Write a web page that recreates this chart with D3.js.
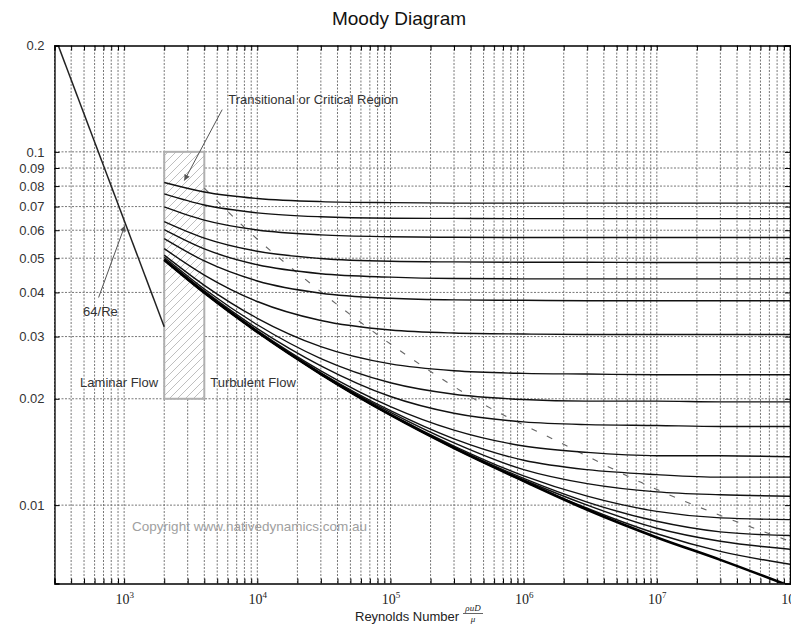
<!DOCTYPE html>
<html><head><meta charset="utf-8">
<script src="https://cdn.jsdelivr.net/npm/d3@7/dist/d3.min.js"></script>
<style>body{margin:0;background:#fff}svg{display:block}</style>
</head><body>
<svg id="chart" width="791" height="632"></svg>
<script>
// ---------- data ----------
const reynoldsNumbers = [2000, 4000, 1e4, 3e4, 1e5, 3e5, 1e6, 3e6, 1e7, 3e7, 1e8];
const roughnessLabels = ["0.05","0.04","0.03","0.02","0.015","0.01","0.005","0.002","0.001","0.0005","0.0002","0.0001","0.00005","0.00002","0.00001","0.000005","0.000002"];
const fRough050    = [0.0819, 0.0770, 0.0738, 0.0723, 0.0718, 0.0716, 0.0716, 0.0716, 0.0716, 0.0716, 0.0716];
const fRough040    = [0.0760, 0.0707, 0.0672, 0.0655, 0.0649, 0.0648, 0.0647, 0.0647, 0.0647, 0.0647, 0.0647];
const fRough030    = [0.0699, 0.0641, 0.0601, 0.0582, 0.0575, 0.0573, 0.0572, 0.0572, 0.0572, 0.0572, 0.0572];
const fRough020    = [0.0635, 0.0570, 0.0523, 0.0499, 0.0490, 0.0488, 0.0487, 0.0487, 0.0486, 0.0486, 0.0486];
const fRough015    = [0.0602, 0.0531, 0.0479, 0.0452, 0.0442, 0.0438, 0.0437, 0.0437, 0.0437, 0.0437, 0.0437];
const fRough010    = [0.0568, 0.0491, 0.0431, 0.0398, 0.0385, 0.0381, 0.0380, 0.0379, 0.0379, 0.0379, 0.0379];
const fRough005    = [0.0532, 0.0448, 0.0377, 0.0333, 0.0313, 0.0307, 0.0305, 0.0304, 0.0304, 0.0304, 0.0304];
const fRough002    = [0.0510, 0.0419, 0.0338, 0.0281, 0.0251, 0.0240, 0.0236, 0.0235, 0.0234, 0.0234, 0.0234];
const fRough001    = [0.0503, 0.0409, 0.0324, 0.0260, 0.0222, 0.0206, 0.0199, 0.0197, 0.0197, 0.0196, 0.0196];
const fRough0005   = [0.0498, 0.0404, 0.0316, 0.0248, 0.0203, 0.0182, 0.0172, 0.0169, 0.0168, 0.0167, 0.0167];
const fRough0002   = [0.0496, 0.0401, 0.0312, 0.0240, 0.0190, 0.0163, 0.0147, 0.0141, 0.0138, 0.0138, 0.0137];
const fRough0001   = [0.0495, 0.0400, 0.0310, 0.0237, 0.0185, 0.0154, 0.0134, 0.0126, 0.0122, 0.0120, 0.0120];
const fRough00005  = [0.0494, 0.0400, 0.0310, 0.0236, 0.0183, 0.0150, 0.0126, 0.0115, 0.0109, 0.0107, 0.0106];
const fRough00002  = [0.0494, 0.0399, 0.0309, 0.0235, 0.0181, 0.0147, 0.0121, 0.0106, 0.0096, 0.0092, 0.0091];
const fRough00001  = [0.0494, 0.0399, 0.0309, 0.0235, 0.0180, 0.0146, 0.0119, 0.0102, 0.0090, 0.0084, 0.0082];
const fRough000005 = [0.0494, 0.0399, 0.0309, 0.0235, 0.0180, 0.0145, 0.0118, 0.0100, 0.0086, 0.0079, 0.0075];
const fRough000002 = [0.0494, 0.0399, 0.0309, 0.0235, 0.0180, 0.0145, 0.0117, 0.0098, 0.0083, 0.0074, 0.0068];
const fSmooth      = [0.0494, 0.0399, 0.0309, 0.0235, 0.0180, 0.0145, 0.0117, 0.0097, 0.0081, 0.0070, 0.0059];

const laminarRe = [320, 2000];
const laminarF  = [0.2, 0.032];
const transitionRe = [2000, 4000];
const transitionF  = [0.02, 0.1];
const boundaryRe = [4000, 8850, 22200, 119000, 475000, 1.9e6, 7.6e6, 1e8];
const boundaryF  = [0.079, 0.059, 0.044, 0.0273, 0.0195, 0.0150, 0.0116, 0.0079];

const xTickExponents = [3, 4, 5, 6, 7, 8];
const yTickValues = [0.01, 0.02, 0.03, 0.04, 0.05, 0.06, 0.07, 0.08, 0.09, 0.1, 0.2];
const yTickLabels = ["0.01","0.02","0.03","0.04","0.05","0.06","0.07","0.08","0.09","0.1","0.2"];

const turbulentSeries = [fRough050, fRough040, fRough030, fRough020, fRough015, fRough010, fRough005,
  fRough002, fRough001, fRough0005, fRough0002, fRough0001, fRough00005, fRough00002, fRough00001,
  fRough000005, fRough000002];

// ---------- layout ----------
const SANS = "'Liberation Sans', Arial, Helvetica, sans-serif";
const SERIF = "'Liberation Serif', 'Times New Roman', serif";
const svg = d3.select("#chart");
const x = d3.scaleLog().domain([300, 1e8]).range([54.5, 790]);
const y = d3.scaleLog().domain([0.006, 0.2]).range([583.5, 45.5]);
const [x0, x1] = x.range(), [y0, y1] = y.range();

const defs = svg.append("defs");
const pat = defs.append("pattern").attr("id", "hatch").attr("patternUnits", "userSpaceOnUse")
  .attr("width", 8).attr("height", 8);
pat.append("path").attr("d", "M-2,2 L2,-2 M0,8 L8,0 M6,10 L10,6")
  .attr("stroke", "#b8b8b8").attr("stroke-width", 0.9);
defs.append("marker").attr("id", "arrow").attr("viewBox", "0 0 10 10")
  .attr("refX", 10).attr("refY", 5).attr("markerWidth", 10).attr("markerHeight", 6)
  .attr("markerUnits", "userSpaceOnUse").attr("orient", "auto")
  .append("path").attr("d", "M0,0 L10,5 L0,10 z").attr("fill", "#555");
defs.append("clipPath").attr("id", "plotclip").append("rect")
  .attr("x", x0).attr("y", y1).attr("width", x1 - x0).attr("height", y0 - y1);

// title
svg.append("text").attr("x", 399).attr("y", 25).attr("text-anchor", "middle")
  .attr("font-family", SANS).attr("font-size", 19).attr("fill", "#111").text("Moody Diagram");

// grid
const grid = svg.append("g");
grid.selectAll("line.v").data(x.ticks()).join("line")
  .attr("x1", d => x(d)).attr("x2", d => x(d)).attr("y1", y1).attr("y2", y0)
  .attr("stroke", "#777").attr("stroke-width", 1).attr("stroke-dasharray", "2,1.5");
grid.selectAll("line.h").data(yTickValues.filter(v => v < 0.2)).join("line")
  .attr("x1", x0).attr("x2", x1).attr("y1", d => y(d)).attr("y2", d => y(d))
  .attr("stroke", "#777").attr("stroke-width", 1).attr("stroke-dasharray", "2,1.5");

// transitional region
svg.append("rect")
  .attr("x", x(transitionRe[0])).attr("y", y(transitionF[1]))
  .attr("width", x(transitionRe[1]) - x(transitionRe[0]))
  .attr("height", y(transitionF[0]) - y(transitionF[1]))
  .attr("fill", "#fff");
svg.append("rect")
  .attr("x", x(transitionRe[0])).attr("y", y(transitionF[1]))
  .attr("width", x(transitionRe[1]) - x(transitionRe[0]))
  .attr("height", y(transitionF[0]) - y(transitionF[1]))
  .attr("fill", "url(#hatch)").attr("stroke", "#b0b0b0").attr("stroke-width", 2);

const plot = svg.append("g").attr("clip-path", "url(#plotclip)");
const line = d3.line().x(d => x(d[0])).y(d => y(d[1])).curve(d3.curveMonotoneX);

// boundary dashed line
plot.append("path").datum(boundaryRe.map((r, i) => [r, boundaryF[i]]))
  .attr("d", line).attr("fill", "none").attr("stroke", "#666").attr("stroke-width", 1.1)
  .attr("stroke-dasharray", "6,11");

// turbulent curves
plot.selectAll("path.turb").data(turbulentSeries).join("path")
  .attr("class", "turb")
  .attr("d", s => line(reynoldsNumbers.map((r, i) => [r, s[i]])))
  .attr("fill", "none").attr("stroke", "#111").attr("stroke-width", 1.4);
plot.append("path").datum(reynoldsNumbers.map((r, i) => [r, fSmooth[i]]))
  .attr("d", line).attr("fill", "none").attr("stroke", "#000").attr("stroke-width", 2.6);

// laminar
plot.append("path").datum(laminarRe.map((r, i) => [r, laminarF[i]]))
  .attr("d", d3.line().x(d => x(d[0])).y(d => y(d[1])))
  .attr("fill", "none").attr("stroke", "#222").attr("stroke-width", 1.5);

// axes (mirrored, inward ticks)
const axB = svg.append("g").attr("transform", `translate(0,${y0})`)
  .call(d3.axisBottom(x).tickValues(x.ticks()).tickSize(-5).tickFormat(() => ""));
const axT = svg.append("g").attr("transform", `translate(0,${y1})`)
  .call(d3.axisTop(x).tickValues(x.ticks()).tickSize(-5).tickFormat(() => ""));
const axL = svg.append("g").attr("transform", `translate(${x0},0)`)
  .call(d3.axisLeft(y).tickValues(yTickValues).tickSize(-5).tickPadding(10)
    .tickFormat((d, i) => yTickLabels[i]));
const axR = svg.append("g").attr("transform", `translate(${x1},0)`)
  .call(d3.axisRight(y).tickValues(yTickValues).tickSize(-5).tickFormat(() => ""));
[axB, axT, axL, axR].forEach(g => {
  g.select(".domain").attr("stroke", "#000").attr("stroke-width", 1.3);
  g.selectAll(".tick line").attr("stroke", "#000");
});
axL.selectAll(".tick text").attr("font-family", SANS).attr("font-size", 13).attr("fill", "#333");

// decade labels 10^n
const axLab = svg.append("g").attr("transform", `translate(0,${y0})`)
  .call(d3.axisBottom(x).tickValues(xTickExponents.map(e => Math.pow(10, e))).tickSize(0).tickFormat(() => ""));
axLab.select(".domain").remove();
axLab.selectAll(".tick text").each(function(d, i) {
  const t = d3.select(this).attr("y", 20).attr("dy", 0)
    .attr("font-family", SERIF).attr("font-size", 14).attr("fill", "#222");
  t.append("tspan").text("10");
  t.append("tspan").attr("dy", -6).attr("font-size", 9).text(String(xTickExponents[i]));
});

// x-axis title with fraction
const xt = svg.append("g").attr("font-family", SANS).attr("fill", "#222");
xt.append("text").attr("x", 355).attr("y", 621).attr("font-size", 13).text("Reynolds Number");
xt.append("text").attr("x", 473).attr("y", 611).attr("text-anchor", "middle")
  .attr("font-family", SERIF).attr("font-style", "italic").attr("font-size", 9).text("ρuD");
xt.append("line").attr("x1", 463).attr("x2", 483).attr("y1", 613.5).attr("y2", 613.5)
  .attr("stroke", "#222").attr("stroke-width", 0.7);
xt.append("text").attr("x", 473).attr("y", 622).attr("text-anchor", "middle")
  .attr("font-family", SERIF).attr("font-style", "italic").attr("font-size", 9).text("μ");

// annotations (positioned in data space)
const ann = svg.append("g").attr("font-family", SANS).attr("font-size", 13).attr("fill", "#333");
ann.append("text").attr("x", x(6050)).attr("y", y(0.1370)).text("Transitional or Critical Region");
ann.append("text").attr("x", x(492)).attr("y", y(0.0344)).text("64/Re");
ann.append("text").attr("x", x(467)).attr("y", y(0.02154)).text("Laminar Flow");
ann.append("text").attr("x", x(4436)).attr("y", y(0.02154)).text("Turbulent Flow");
ann.append("text").attr("x", x(1148)).attr("y", y(0.00843)).attr("fill", "#a0a0a0")
  .attr("font-size", 13.5).text("Copyright www.nativedynamics.com.au");

svg.append("line").attr("x1", x(5450)).attr("y1", y(0.1317)).attr("x2", x(2830)).attr("y2", y(0.0829))
  .attr("stroke", "#555").attr("stroke-width", 1).attr("marker-end", "url(#arrow)");
svg.append("line").attr("x1", x(643)).attr("y1", y(0.0387)).attr("x2", x(1013)).attr("y2", y(0.0619))
  .attr("stroke", "#555").attr("stroke-width", 1).attr("marker-end", "url(#arrow)");
</script>
</body></html>
